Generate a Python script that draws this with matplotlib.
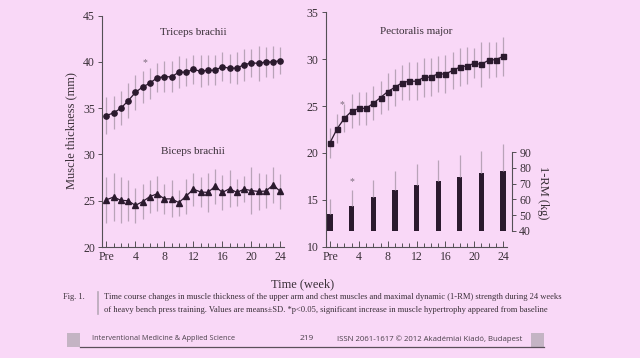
import numpy as np
import matplotlib
matplotlib.use('Agg')
import matplotlib.pyplot as plt
from matplotlib.patches import Rectangle
from matplotlib.lines import Line2D

# data (mm, kg)
weeks = np.arange(25)
tick_weeks = [0, 4, 8, 12, 16, 20, 24]
tick_labels = ['Pre', '4', '8', '12', '16', '20', '24']

triceps = [34.2, 34.5, 35.0, 35.8, 36.7, 37.3, 37.7, 38.3, 38.4, 38.4, 38.9,
           38.9, 39.2, 39.0, 39.1, 39.1, 39.5, 39.3, 39.35, 39.7, 39.9, 39.85,
           40.0, 40.0, 40.15]
triceps_sd = [2.0, 1.8, 1.85, 1.9, 1.85, 1.7, 1.65, 1.6, 1.65, 1.65, 1.7,
              1.55, 1.6, 1.75, 1.6, 1.6, 1.6, 1.6, 1.75, 1.75, 1.5, 1.9, 1.6,
              1.75, 1.5]
biceps = [25.1, 25.4, 25.05, 25.0, 24.5, 24.9, 25.45, 25.75, 25.2, 25.2, 24.8,
          25.5, 26.25, 25.95, 25.9, 26.55, 25.9, 26.3, 25.9, 26.25, 26.1, 26.0,
          26.05, 26.7, 26.0]
biceps_sd = [2.5, 2.6, 2.5, 2.2, 1.9, 1.9, 1.8, 1.9, 1.6, 2.0, 1.4, 1.9, 1.8,
             1.6, 2.1, 1.9, 1.9, 2.0, 1.5, 1.4, 2.5, 2.0, 1.8, 1.9, 1.9]
pectoralis = [21.1, 22.6, 23.7, 24.45, 24.75, 24.75, 25.3, 25.9, 26.55, 27.0,
              27.5, 27.65, 27.65, 28.05, 28.1, 28.45, 28.4, 28.8, 29.15, 29.3,
              29.55, 29.45, 29.9, 29.95, 30.3]
pectoralis_sd = [1.6, 1.5, 1.5, 1.8, 1.8, 1.8, 1.8, 1.8, 2.0, 2.0, 1.9, 2.0,
                 2.0, 2.1, 2.0, 1.9, 2.0, 2.0, 2.0, 2.0, 1.6, 2.4, 1.9, 1.9,
                 2.1]
rm_weeks = [0, 3, 6, 9, 12, 15, 18, 21, 24]
rm = [50.7, 55.7, 61.5, 65.8, 69.2, 72.0, 74.5, 76.5, 78.4]
rm_sd = [9.7, 10.5, 10.7, 12.4, 13.5, 13.1, 13.6, 14.4, 16.8]

bg = '#f9d8f7'
dark = '#2b1a2e'
errc = '#b9a3b8'
txt = '#3a3038'
serif = ['Liberation Serif', 'DejaVu Serif']

plt.rcParams['font.family'] = serif
W, H = 640, 358


def fx(px):
    return px / W


def fy(py):
    return 1 - py / H


def style_axes(ax, ylim, yticks):
    ax.set_facecolor('none')
    for s in ['top', 'right']:
        ax.spines[s].set_visible(False)
    for s in ['left', 'bottom']:
        ax.spines[s].set_color('#555055')
        ax.spines[s].set_linewidth(0.8)
    ax.set_xlim(-0.6, 24.5)
    ax.set_ylim(*ylim)
    ax.set_yticks(yticks)
    ax.set_xticks(tick_weeks)
    ax.set_xticklabels(tick_labels)
    ax.set_xticks(weeks, minor=True)
    ax.tick_params(axis='x', which='major', direction='in', length=4,
                   width=0.7, colors='#555055', labelsize=8.5,
                   labelcolor=txt, pad=3)
    ax.tick_params(axis='x', which='minor', direction='in', length=3,
                   width=0.7, colors='#555055')
    ax.tick_params(axis='y', direction='out', length=3, width=0.7,
                   colors='#555055', labelsize=8.5, labelcolor=txt, pad=2)


fig = plt.figure(figsize=(6.4, 3.58), dpi=100, facecolor=bg)

# left panel: arm muscles
ax1 = fig.add_axes([fx(102), fy(247), fx(182), (247 - 15.7) / H])
style_axes(ax1, (20, 45), [20, 25, 30, 35, 40, 45])
ax1.errorbar(weeks, triceps, yerr=triceps_sd, fmt='-o', color=dark, ms=3.8,
             lw=0.9, ecolor=errc, elinewidth=0.9, capsize=0)
ax1.errorbar(weeks, biceps, yerr=biceps_sd, fmt='-^', color=dark, ms=3.8,
             lw=0.9, ecolor=errc, elinewidth=0.9, capsize=0)
ax1.text(12, 43.2, 'Triceps brachii', ha='center', va='center', fontsize=8,
         color=txt)
ax1.text(12, 30.3, 'Biceps brachii', ha='center', va='center', fontsize=8,
         color=txt)
ax1.text(5.3, 39.9, '*', ha='center', va='center', fontsize=7, color='#7a6a7a')

# right panel: chest muscle + 1-RM
ax2 = fig.add_axes([fx(325.7), fy(246.7), fx(181), (246.7 - 12.3) / H])
style_axes(ax2, (10, 35), [10, 15, 20, 25, 30, 35])
ax3 = ax2.twinx()
ax3.set_facecolor('none')
ax3.set_ylim(29.8, 179.3)
ax3.set_xlim(-0.6, 24.5)
for s in ['top', 'left', 'bottom']:
    ax3.spines[s].set_visible(False)
ax3.spines['right'].set_bounds(40, 90)
ax3.spines['right'].set_position(('outward', 4))
ax3.spines['right'].set_color('#555055')
ax3.spines['right'].set_linewidth(0.8)
ax3.set_yticks([40, 50, 60, 70, 80, 90])
ax3.tick_params(axis='y', direction='out', length=3, width=0.7,
                colors='#555055', labelsize=8.5, labelcolor=txt, pad=2)
ax3.bar(rm_weeks, np.array(rm) - 40, bottom=40, width=0.72, color=dark,
        yerr=[np.zeros(len(rm_sd)), rm_sd],
        error_kw=dict(ecolor=errc, elinewidth=0.9, capsize=0))
ax3.text(3, 71, '*', ha='center', va='center', fontsize=7, color='#7a6a7a')

ax2.errorbar(weeks, pectoralis, yerr=pectoralis_sd, fmt='-s', color=dark,
             ms=3.6, lw=0.9, ecolor=errc, elinewidth=0.9, capsize=0,
             zorder=5)
ax2.set_zorder(ax3.get_zorder() + 1)
ax2.text(12, 32.9, 'Pectoralis major', ha='center', va='center', fontsize=8,
         color=txt)
ax2.text(1.6, 25.2, '*', ha='center', va='center', fontsize=7, color='#7a6a7a')

fig.text(fx(543), fy(193), '1-RM (kg)', rotation=270, ha='center',
         va='center', fontsize=9, color=txt)
fig.text(fx(71), fy(131), 'Muscle thickness (mm)', rotation=90, ha='center',
         va='center', fontsize=9, color=txt)
fig.text(fx(303), fy(284), 'Time (week)', ha='center', va='center',
         fontsize=9, color=txt)

# caption
fig.text(fx(63), fy(297), 'Fig. 1.', ha='left', va='center', fontsize=6,
         color=txt)
fig.add_artist(Line2D([fx(98), fx(98)], [fy(292), fy(314)],
                      transform=fig.transFigure, color='#b8a8b8', lw=1.2))
fig.text(fx(104), fy(297),
         'Time course changes in muscle thickness of the upper arm and chest '
         'muscles and maximal dynamic (1-RM) strength during 24 weeks',
         ha='left', va='center', fontsize=6.1, color=txt)
fig.text(fx(104), fy(310),
         'of heavy bench press training. Values are means\u00b1SD. *p<0.05, '
         'significant increase in muscle hypertrophy appeared from baseline',
         ha='left', va='center', fontsize=6.1, color=txt)

# footer
fig.add_artist(Rectangle((fx(67), fy(347)), fx(13), 14 / H,
                         transform=fig.transFigure, color='#c4b4c4', lw=0))
fig.add_artist(Rectangle((fx(531), fy(347)), fx(13), 14 / H,
                         transform=fig.transFigure, color='#c4b4c4', lw=0))
fig.add_artist(Line2D([fx(80), fx(544)], [fy(347), fy(347)],
                      transform=fig.transFigure, color='#5a505a', lw=0.9))
foot = ['Open Sans', 'DejaVu Sans']
fig.text(fx(92), fy(339), 'Interventional Medicine & Applied Science',
         ha='left', va='center', fontsize=5.2, color='#4a404a', family=foot)
fig.text(fx(307), fy(339), '219', ha='center', va='center', fontsize=6,
         color='#4a404a', family=foot)
fig.text(fx(337), fy(339),
         'ISSN 2061-1617 \u00a9 2012 Akad\u00e9miai Kiad\u00f3, Budapest',
         ha='left', va='center', fontsize=5.6, color='#4a404a', family=foot)

fig.savefig('out.png', dpi=100, facecolor=bg)
